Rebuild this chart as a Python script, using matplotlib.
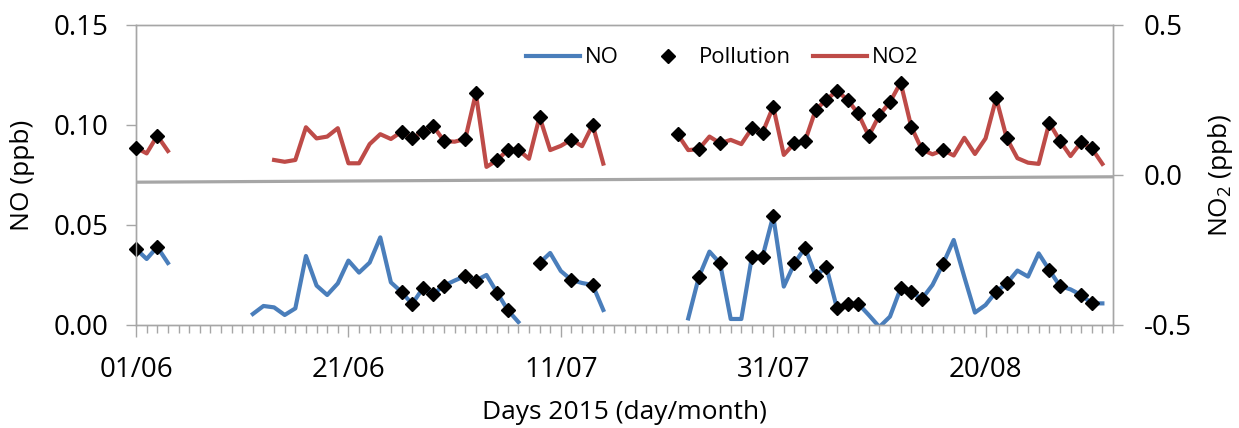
import numpy as np
import matplotlib
matplotlib.use("Agg")
import matplotlib.pyplot as plt
from matplotlib.lines import Line2D
from matplotlib.ticker import FixedLocator, MultipleLocator, FormatStrFormatter

plt.rcParams['font.family'] = ['Open Sans', 'DejaVu Sans']
plt.rcParams['axes.unicode_minus'] = False

nan = np.nan

# daily values from 01/06/2015 (day 0) to 31/08/2015 (day 91)
no_ppb = [
    0.038, 0.033, 0.039, 0.031, nan, nan, nan, nan, nan, nan,
    nan, 0.0055, 0.0095, 0.0088, 0.005, 0.0083, 0.0345, 0.0197, 0.015, 0.0208,
    0.0322, 0.0262, 0.0312, 0.0438, 0.0213, 0.0165, 0.0105, 0.0183, 0.0155, 0.0197,
    0.0222, 0.0245, 0.0222, 0.025, 0.0162, 0.0075, 0.0015, nan, 0.031, 0.036,
    0.027, 0.0225, 0.021, 0.020, 0.0075, nan, nan, nan, nan, nan,
    nan, nan, 0.0033, 0.024, 0.0367, 0.0308, 0.003, 0.003, 0.0342, 0.0342,
    0.0545, 0.0192, 0.0308, 0.0387, 0.0245, 0.0292, 0.0085, 0.0107, 0.0107, 0.005,
    -0.001, 0.0042, 0.0183, 0.0165, 0.013, 0.02, 0.0306, 0.0425, 0.024, 0.0062,
    0.01, 0.0167, 0.0208, 0.0272, 0.0242, 0.0358, 0.0275, 0.0195, 0.0178, 0.015,
    0.0108, 0.0108,
]

no2_ppb = [
    0.091, 0.072, 0.131, 0.08, nan, nan, nan, nan, nan, nan,
    nan, nan, nan, 0.05, 0.044, 0.05, 0.159, 0.122, 0.128, 0.156,
    0.039, 0.039, 0.103, 0.136, 0.12, 0.144, 0.122, 0.144, 0.163, 0.113,
    0.111, 0.12, 0.272, 0.027, 0.049, 0.084, 0.084, 0.054, 0.194, 0.083,
    0.097, 0.118, 0.096, 0.167, 0.038, nan, nan, nan, nan, nan,
    nan, 0.136, 0.083, 0.086, 0.128, 0.106, 0.117, 0.103, 0.156, 0.141,
    0.228, 0.067, 0.106, 0.113, 0.217, 0.251, 0.28, 0.251, 0.205, 0.13,
    0.2, 0.243, 0.308, 0.161, 0.085, 0.069, 0.083, 0.065, 0.124, 0.07,
    0.122, 0.256, 0.122, 0.056, 0.041, 0.037, 0.174, 0.114, 0.063, 0.109,
    0.089, 0.037,
]

# days flagged as pollution events
pollution_no_days = [0, 2, 25, 26, 27, 28, 29, 31, 32, 34, 35, 38, 41, 43,
                     53, 55, 58, 59, 60, 62, 63, 64, 65, 66, 67, 68,
                     72, 73, 74, 76, 81, 82, 86, 87, 89, 90]
pollution_no2_days = sorted(pollution_no_days + [36, 51, 69, 70, 71])

# grey reference line on the NO2 scale (start, end of period)
ref_days = [0, 92]
ref_no2 = [-0.024, -0.006]

tick_days = [0, 20, 40, 60, 80]
tick_labels = ["01/06", "21/06", "11/07", "31/07", "20/08"]

days = np.arange(len(no_ppb))
no = np.array(no_ppb)
no2 = np.array(no2_ppb)

blue = "#4A7EBB"
red = "#BE4B48"
grey = "#A6A6A6"

fig, ax = plt.subplots(figsize=(12.39, 4.28), dpi=100)
fig.subplots_adjust(left=0.1098, right=0.8983, bottom=0.2407, top=0.9416)
ax2 = ax.twinx()

ax.plot(days, no, color=blue, lw=3, zorder=2)
ax.plot(pollution_no_days, no[pollution_no_days], 'D', color='black',
        ms=7, zorder=3, clip_on=False)

ax2.plot(ref_days, ref_no2, color=grey, lw=2.3, zorder=1)
ax2.plot(days, no2, color=red, lw=3, zorder=2)
ax2.plot(pollution_no2_days, no2[pollution_no2_days], 'D', color='black',
         ms=7, zorder=3, clip_on=False)

ax.set_xlim(0, 92)
ax.set_ylim(0, 0.15)
ax2.set_ylim(-0.5, 0.5)

ax.xaxis.set_major_locator(FixedLocator(tick_days))
ax.set_xticklabels(tick_labels)
ax.xaxis.set_minor_locator(MultipleLocator(1))
ax.yaxis.set_major_locator(MultipleLocator(0.05))
ax.yaxis.set_major_formatter(FormatStrFormatter('%.2f'))
ax2.yaxis.set_major_locator(MultipleLocator(0.5))
ax2.yaxis.set_major_formatter(FormatStrFormatter('%.1f'))

for a in (ax, ax2):
    for s in a.spines.values():
        s.set_color(grey)
        s.set_linewidth(1)
ax.tick_params(axis='x', which='major', direction='out', length=8.5, width=1,
               color=grey, labelsize=20, pad=14)
ax.tick_params(axis='x', which='minor', direction='out', length=5.5, width=1,
               color=grey)
ax.tick_params(axis='y', direction='out', length=7, width=1, color=grey,
               labelsize=20, pad=13)
ax2.tick_params(axis='y', direction='out', length=7, width=1, color=grey,
                labelsize=20, pad=15)

ax.set_xlabel("Days 2015 (day/month)", fontsize=19)
ax.xaxis.set_label_coords(0.5, -0.25)
ax.set_ylabel("NO (ppb)", fontsize=19)
ax.yaxis.set_label_coords(-0.103, 0.5)
ax2.set_ylabel(r"NO$_\mathregular{2}$ (ppb)", fontsize=19)
ax2.yaxis.set_label_coords(1.095, 0.5)

handles = [
    Line2D([], [], color=blue, lw=3),
    Line2D([], [], ls='none', marker='D', color='black', ms=7),
    Line2D([], [], color=red, lw=3),
]
fig.legend(handles, ["NO", "Pollution", "NO2"], loc='center',
           bbox_to_anchor=(0.583, 0.865), ncol=3, frameon=False, fontsize=16,
           handlelength=2.43, handletextpad=0.2, columnspacing=1.0)

fig.savefig("out.png", dpi=100)
